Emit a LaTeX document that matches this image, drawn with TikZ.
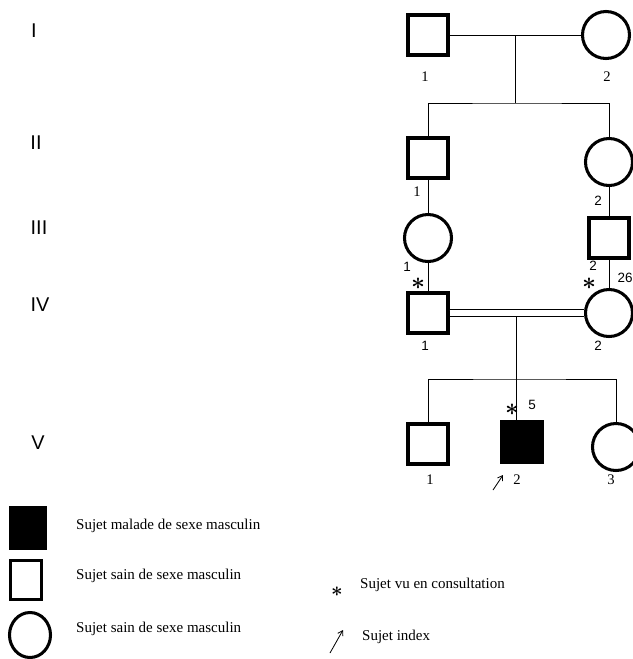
\documentclass[tikz,border=0pt]{standalone}
\usepackage{fontspec}
\setmainfont{Liberation Serif}
\setsansfont{Liberation Sans}
\usetikzlibrary{arrows.meta, positioning, calc, shapes.geometric}

\tikzset{
  male/.style={draw, rectangle, line width=2.6pt, minimum size=1.2cm, inner sep=0pt},
  female/.style={draw, circle, line width=2.6pt, minimum size=1.41cm, inner sep=0pt},
  affected/.style={male, fill=black},
  link/.style={line width=0.8pt},
  num/.style={font=\fontsize{12.5}{12.5}\selectfont, inner sep=0pt},
  numsf/.style={font=\sffamily\fontsize{11.5}{11.5}\selectfont, inner sep=0pt},
  gen/.style={font=\sffamily\fontsize{17}{17}\selectfont, inner sep=0pt},
  seen/.style={font=\fontsize{21}{21}\selectfont\boldmath, inner sep=0pt},
  index/.style={line width=0.7pt, -{Straight Barb[length=4pt, width=5pt]}},
  keytext/.style={font=\fontsize{12.8}{12.8}\selectfont, anchor=west, inner sep=0pt}
}

\begin{document}
\begin{tikzpicture}[x=0.03cm, y=-0.03cm]
    \clip (0,0) rectangle (633,659);

    % generation numbers
    \node[gen] (genI)   at (34,31)  {I};
    \node[gen] (genII)  at (36,143) {II};
    \node[gen] (genIII) at (39,228) {III};
    \node[gen] (genIV)  at (40,305) {IV};
    \node[gen] (genV)   at (38,443) {V};

    % generation I
    \node[male]   (i1) at (428,35) {};
    \node[female] (i2) at (606,35) {};
    \node[num] at (425,77) {1};
    \node[num] at (607,77) {2};
    \draw[link] (i1) -- (i2);
    \coordinate (m1) at ($(i1.east)!0.5!(i2.west)$);
    \coordinate (s1) at (m1 |- 0,103);
    \draw[link] (m1) -- (s1);

    % generation II
    \node[male]   (ii1) at (428,158) {};
    \node[female] (ii2) at (609,162) {};
    \draw[link] (ii1.north) |- (s1) -| (ii2.north);
    \node[num] at (417,192) {1};
    \node[numsf] at (598,201) {2};

    % generation III
    \node[female] (iii1) at (428,238) {};
    \node[male]   (iii2) at (609,238) {};
    \draw[link] (ii1) -- (iii1);
    \draw[link] (ii2) -- (iii2);
    \node[numsf] at (407,267) {1};
    \node[numsf] at (593,266) {2};
    \node[numsf] at (625,278) {26};
    \node[seen] at (418,284) {$\ast$};
    \node[seen] at (589,284) {$\ast$};

    % generation IV, consanguineous couple
    \node[male]   (iv1) at (428,313) {};
    \node[female] (iv2) at (609,313) {};
    \draw[link] (iii1) -- (iv1);
    \draw[link] (iii2) -- (iv2);
    \draw[link, double, double distance=5pt] (iv1) -- (iv2);
    \node[numsf] at (425,346) {1};
    \node[numsf] at (598,346) {2};
    \coordinate (m4) at ($(iv1.east)!0.5!(iv2.west)+(0,4)$);
    \coordinate (s4) at (m4 |- 0,379);

    % generation V
    \node[male]     (v1) at (428,444) {};
    \node[affected] (v2) at (522,442) {};
    \node[female]   (v3) at (616,447) {};
    \draw[link] (m4) -- (m4 |- v2.north);
    \draw[link] (v1.north) |- (s4) -| (v3.north);
    \node[num] at (430,480) {1};
    \node[num] at (517,480) {2};
    \node[num] at (611,480) {3};
    \node[seen] at (512,410) {$\ast$};
    \node[numsf] at (532,405) {5};
    \coordinate (proband) at (493,490);
    \draw[index] (proband) -- ++(10,-15);

    % key
    \node[affected, minimum width=1.02cm, minimum height=1.2cm] (keyaff) at (28,528) {};
    \node[male, minimum width=0.94cm, minimum height=1.17cm] (keymale) at (26,580) {};
    \node[draw, ellipse, line width=2.6pt, minimum width=1.23cm, minimum height=1.35cm] (keyfem) at (30,635) {};
    \node[keytext] at (76,526) {Sujet malade de sexe masculin};
    \node[keytext] at (76,576) {Sujet sain de sexe masculin};
    \node[keytext] at (76,629) {Sujet sain de sexe masculin};
    \node[seen, font=\fontsize{17}{17}\selectfont\boldmath] (keyseen) at (337,592) {$\ast$};
    \node[keytext] at (360,585) {Sujet vu en consultation};
    \coordinate (keyarr) at (330,653);
    \draw[index] (keyarr) -- ++(13,-23);
    \node[keytext] at (362,637) {Sujet index};
\end{tikzpicture}
\end{document}
